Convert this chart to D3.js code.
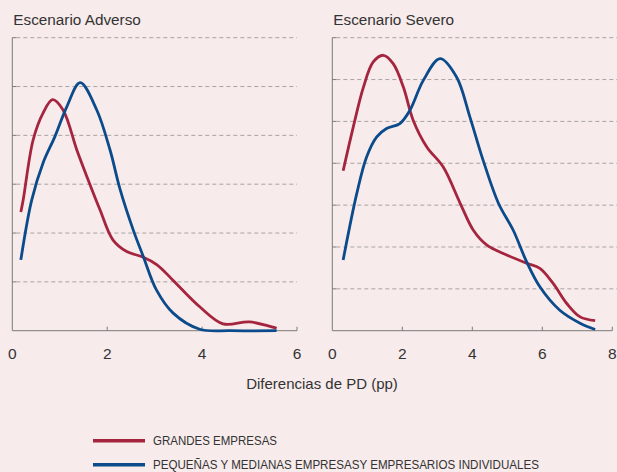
<!DOCTYPE html>
<html>
<head>
<meta charset="utf-8">
<script src="https://cdn.jsdelivr.net/npm/d3@7"></script>
<style>
  body { margin: 0; background: #f7ebeb; }
  svg { display: block; }
  text { font-family: "Liberation Sans", Arial, sans-serif; fill: #333; }
  .legend-text { font-family: "Liberation Sans Narrow", "Liberation Sans", sans-serif; }
</style>
</head>
<body>
<svg id="chart" width="617" height="472"></svg>
<script>
// Escenario Adverso
const advGrandesX = [0.18, 0.23, 0.44, 0.65, 0.85, 1.07, 1.36, 1.57, 1.85, 2.12, 2.41, 2.75, 3.05, 3.38, 3.95, 4.44, 5.00, 5.57];
const advGrandesY = [2.43, 2.68, 3.91, 4.46, 4.73, 4.52, 3.70, 3.16, 2.47, 1.86, 1.62, 1.51, 1.35, 1.04, 0.49, 0.14, 0.18, 0.05];
const advPymesX = [0.18, 0.41, 0.65, 0.90, 1.15, 1.43, 1.78, 2.06, 2.27, 2.55, 2.76, 3.04, 3.39, 3.95, 4.60, 5.57];
const advPymesY = [1.45, 2.68, 3.44, 3.98, 4.59, 5.08, 4.52, 3.70, 2.90, 2.06, 1.52, 0.83, 0.36, 0.03, 0.0, 0.0];

// Escenario Severo
const sevGrandesX = [0.31, 0.60, 0.89, 1.17, 1.46, 1.74, 2.03, 2.31, 2.70, 3.17, 3.65, 4.03, 4.41, 4.98, 5.55, 5.93, 6.31, 6.70, 7.08, 7.51];
const sevGrandesY = [3.82, 4.87, 5.82, 6.42, 6.58, 6.38, 5.82, 5.03, 4.39, 3.91, 3.05, 2.40, 2.05, 1.81, 1.61, 1.49, 1.13, 0.65, 0.33, 0.24];
const sevPymesX = [0.31, 0.70, 0.98, 1.27, 1.55, 1.93, 2.22, 2.60, 3.08, 3.55, 3.93, 4.31, 4.75, 5.17, 5.55, 5.93, 6.50, 7.08, 7.51];
const sevPymesY = [1.69, 3.28, 4.15, 4.63, 4.83, 4.95, 5.27, 5.98, 6.50, 6.06, 5.11, 4.07, 3.04, 2.40, 1.65, 1.05, 0.49, 0.18, 0.03];

const xTicksAdv = [0, 2, 4, 6];
const xTicksSev = [0, 2, 4, 6, 8];
const titles = ["Escenario Adverso", "Escenario Severo"];
const legendLabels = ["GRANDES EMPRESAS", "PEQUEÑAS Y MEDIANAS EMPRESASY EMPRESARIOS INDIVIDUALES"];
const colors = ["#a5253f", "#0b4b8b"];

const svg = d3.select("#chart");
const plotTop = 37.7, plotBottom = 330.7;

const panels = [
    { title: titles[0], x0: 12.3, x1: 297, gridEnd: 297, xmax: 6, ymax: 6, ticks: xTicksAdv,
      series: [[advGrandesX, advGrandesY], [advPymesX, advPymesY]] },
    { title: titles[1], x0: 332.3, x1: 612.3, gridEnd: 617, xmax: 8, ymax: 7, ticks: xTicksSev,
      series: [[sevGrandesX, sevGrandesY], [sevPymesX, sevPymesY]] }
];

panels.forEach(function(p) {
    const x = d3.scaleLinear().domain([0, p.xmax]).range([p.x0, p.x1]);
    const y = d3.scaleLinear().domain([0, p.ymax]).range([plotBottom, plotTop]);
    const g = svg.append("g");

    // dashed gridlines
    const yt = d3.range(1, p.ymax + 1);
    g.selectAll(".grid")
        .data(yt)
        .enter()
        .append("line")
        .attr("x1", p.x0 + 4)
        .attr("x2", p.gridEnd)
        .attr("y1", d => y(d))
        .attr("y2", d => y(d))
        .attr("stroke", "#a9a3a3")
        .attr("stroke-width", 1)
        .attr("stroke-dasharray", "4,3");

    // small y ticks
    g.selectAll(".ytick")
        .data(yt)
        .enter()
        .append("line")
        .attr("x1", p.x0)
        .attr("x2", p.x0 + 4)
        .attr("y1", d => y(d))
        .attr("y2", d => y(d))
        .attr("stroke", "#7a7a7a");

    // axes lines
    g.append("line")
        .attr("x1", p.x0).attr("x2", p.x0)
        .attr("y1", plotTop).attr("y2", plotBottom)
        .attr("stroke", "#7a7a7a");
    g.append("line")
        .attr("x1", p.x0).attr("x2", p.x1)
        .attr("y1", plotBottom).attr("y2", plotBottom)
        .attr("stroke", "#7a7a7a");

    g.selectAll(".xtick")
        .data(p.ticks.slice(1))
        .enter()
        .append("line")
        .attr("x1", d => x(d)).attr("x2", d => x(d))
        .attr("y1", plotBottom).attr("y2", plotBottom - 4)
        .attr("stroke", "#7a7a7a");

    g.selectAll(".xlabel")
        .data(p.ticks)
        .enter()
        .append("text")
        .attr("x", d => x(d))
        .attr("y", 359)
        .attr("text-anchor", "middle")
        .style("font-size", "15.5px")
        .text(d => d);

    g.append("text")
        .attr("x", p.x0 + 1)
        .attr("y", 25)
        .style("font-size", "15.3px")
        .text(p.title);

    const line = d3.line()
        .x(d => x(d[0]))
        .y(d => y(d[1]))
        .curve(d3.curveCatmullRom.alpha(0.5));

    p.series.forEach(function(s, i) {
        const pts = s[0].map((v, k) => [v, s[1][k]]);
        g.append("path")
            .attr("d", line(pts))
            .attr("fill", "none")
            .attr("stroke", colors[i])
            .attr("stroke-width", 2.8);
    });
});

svg.append("text")
    .attr("x", 322)
    .attr("y", 389)
    .attr("text-anchor", "middle")
    .style("font-size", "15px")
    .text("Diferencias de PD (pp)");

// legend
const lw = [124, 386];
legendLabels.forEach(function(label, i) {
    const ly = 440.7 + i * 24;
    svg.append("line")
        .attr("x1", 93).attr("x2", 145)
        .attr("y1", ly).attr("y2", ly)
        .attr("stroke", colors[i])
        .attr("stroke-width", 3.5);
    svg.append("text")
        .attr("class", "legend-text")
        .attr("x", 153)
        .attr("y", ly + 4.5)
        .attr("textLength", lw[i])
        .attr("lengthAdjust", "spacingAndGlyphs")
        .style("font-size", "13.5px")
        .text(label);
});
</script>
</body>
</html>
